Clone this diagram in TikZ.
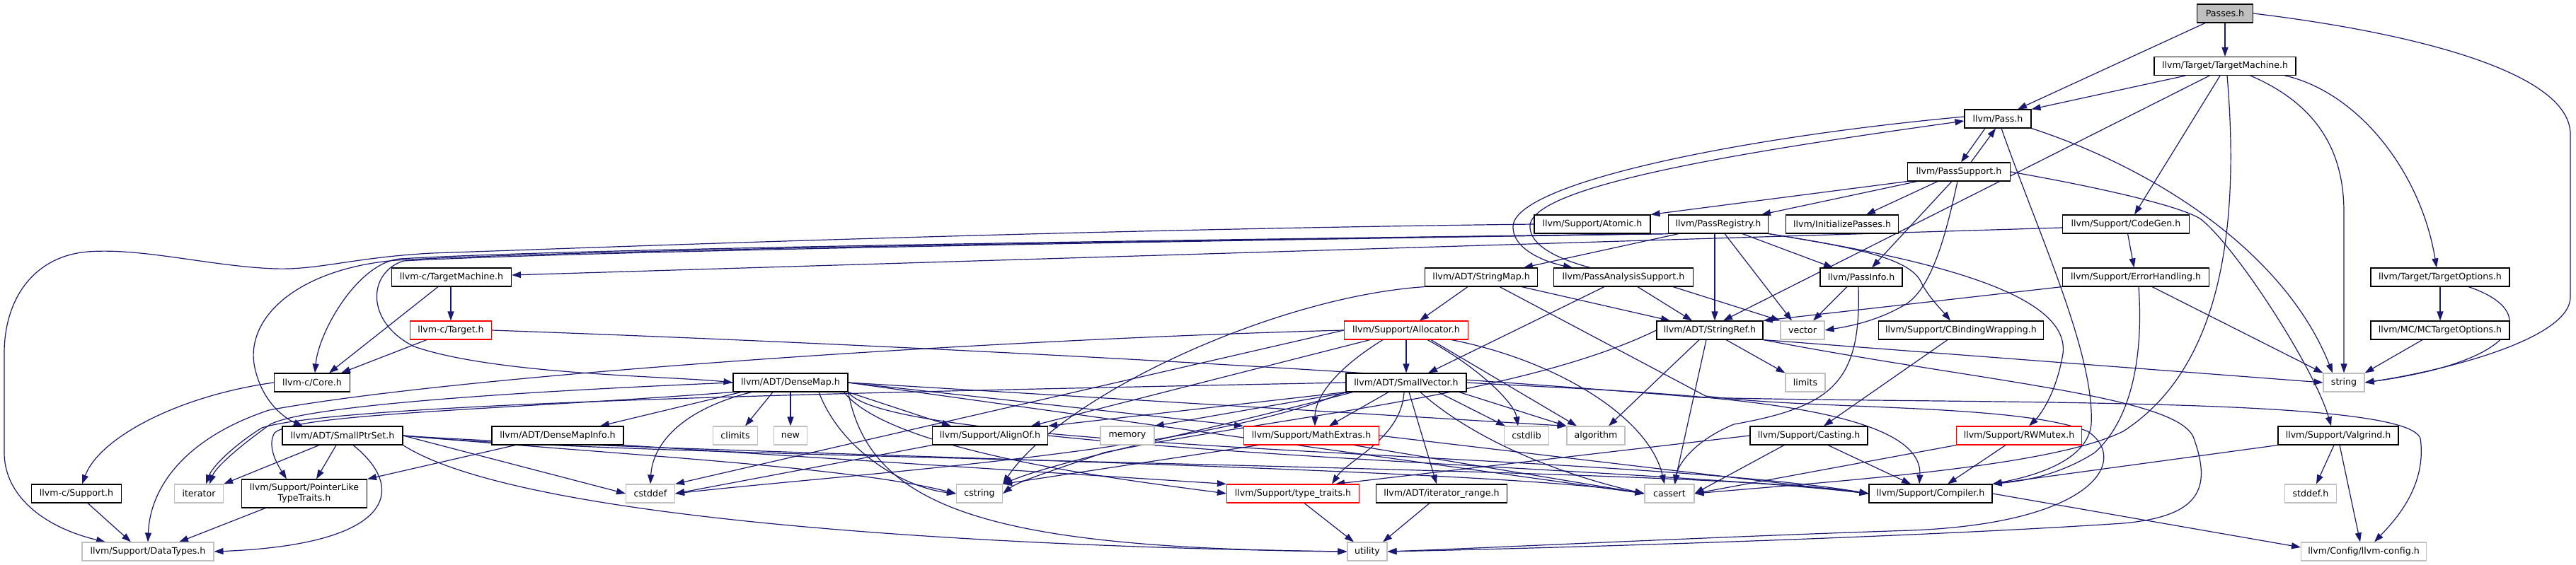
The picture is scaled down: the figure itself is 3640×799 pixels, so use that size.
\documentclass[tikz,border=0pt]{standalone}
\usepackage{fontspec}
\setmainfont{DejaVu Sans}
\usetikzlibrary{arrows.meta,backgrounds}
\definecolor{depblue}{RGB}{25,25,112}
\definecolor{boxgrey}{RGB}{191,191,191}
\definecolor{boxred}{RGB}{255,0,0}
\tikzset{
  hdr/.style={draw=black, line width=1.1pt, fill=white, font=\fontsize{12.6}{15}\selectfont, minimum height=26pt, inner sep=0pt, align=center},
  trunc/.style={hdr, draw=boxred},
  sys/.style={hdr, draw=boxgrey},
  dep/.style={draw=depblue, line width=1.2pt, -{Triangle[length=13pt,width=9pt]}}
}
\begin{document}
\begin{tikzpicture}[x=1pt,y=-1pt]
      \useasboundingbox (0,0) rectangle (3640,799);
      \node[hdr, minimum width=79pt, fill=boxgrey] (passes) at (3144,19) {Passes.h};
      \node[hdr, minimum width=200pt] (tm) at (3144,93.5) {llvm/Target/TargetMachine.h};
      \node[hdr, minimum width=94pt] (pass) at (2823,168) {llvm/Pass.h};
      \node[hdr, minimum width=145pt] (passsup) at (2768,243) {llvm/PassSupport.h};
      \node[hdr, minimum width=164pt] (atomic) at (2250,317) {llvm/Support/Atomic.h};
      \node[hdr, minimum width=141pt] (passreg) at (2428,317) {llvm/PassRegistry.h};
      \node[hdr, minimum width=159pt] (initpasses) at (2603,317) {llvm/InitializePasses.h};
      \node[hdr, minimum width=179pt] (codegen) at (3004,317) {llvm/Support/CodeGen.h};
      \node[hdr, minimum width=169pt] (ctm) at (638,392) {llvm-c/TargetMachine.h};
      \node[hdr, minimum width=159pt] (stringmap) at (2093,392) {llvm/ADT/StringMap.h};
      \node[hdr, minimum width=197pt] (pas) at (2294,392) {llvm/PassAnalysisSupport.h};
      \node[hdr, minimum width=116pt] (passinfo) at (2630,392) {llvm/PassInfo.h};
      \node[hdr, minimum width=207pt] (errh) at (3018,392) {llvm/Support/ErrorHandling.h};
      \node[hdr, minimum width=196pt] (topt) at (3448,392) {llvm/Target/TargetOptions.h};
      \node[trunc, minimum width=115pt] (ctarget) at (637,467) {llvm-c/Target.h};
      \node[trunc, minimum width=175pt] (alloc) at (1987,467) {llvm/Support/Allocator.h};
      \node[hdr, minimum width=150pt] (sref) at (2416,467) {llvm/ADT/StringRef.h};
      \node[sys, minimum width=62pt] (vector) at (2547,467) {vector};
      \node[hdr, minimum width=233pt] (cbind) at (2771,467) {llvm/Support/CBindingWrapping.h};
      \node[hdr, minimum width=196pt] (mcopt) at (3448,467) {llvm/MC/MCTargetOptions.h};
      \node[hdr, minimum width=107pt] (core) at (441,541) {llvm-c/Core.h};
      \node[hdr, minimum width=162pt] (dmap) at (1117,541) {llvm/ADT/DenseMap.h};
      \node[hdr, minimum width=170pt] (svec) at (1987,541) {llvm/ADT/SmallVector.h};
      \node[sys, minimum width=56pt] (limits) at (2551,541) {limits};
      \node[sys, minimum width=58pt] (string) at (3312,541) {string};
      \node[hdr, minimum width=170pt] (sptr) at (484,616) {llvm/ADT/SmallPtrSet.h};
      \node[hdr, minimum width=186pt] (dminfo) at (788,616) {llvm/ADT/DenseMapInfo.h};
      \node[sys, minimum width=63pt] (climits) at (1039,616) {climits};
      \node[sys, minimum width=47pt] (cnew) at (1117,616) {new};
      \node[hdr, minimum width=163pt] (alignof) at (1399,616) {llvm/Support/AlignOf.h};
      \node[sys, minimum width=76pt] (memory) at (1593,616) {memory};
      \node[trunc, minimum width=191pt] (mathx) at (1853,616) {llvm/Support/MathExtras.h};
      \node[sys, minimum width=63pt] (cstdlib) at (2157,616) {cstdlib};
      \node[sys, minimum width=82pt] (algorithm) at (2255,616) {algorithm};
      \node[hdr, minimum width=166pt] (casting) at (2556,616) {llvm/Support/Casting.h};
      \node[trunc, minimum width=177pt] (rwmutex) at (2853,616) {llvm/Support/RWMutex.h};
      \node[hdr, minimum width=170pt] (valgrind) at (3304,616) {llvm/Support/Valgrind.h};
      \node[hdr, minimum width=127pt] (csupport) at (108,698) {llvm-c/Support.h};
      \node[sys, minimum width=69pt] (iterator) at (281,698) {iterator};
      \node[hdr, minimum width=177pt, minimum height=40pt] (plt) at (430,698) {llvm/Support/PointerLike\\TypeTraits.h};
      \node[sys, minimum width=69pt] (cstddef) at (919,698) {cstddef};
      \node[sys, minimum width=65pt] (cstring) at (1384,698) {cstring};
      \node[trunc, minimum width=187pt] (ttraits) at (1827,698) {llvm/Support/type\_traits.h};
      \node[hdr, minimum width=185pt] (irange) at (2037,698) {llvm/ADT/iterator\_range.h};
      \node[sys, minimum width=70pt] (cassert) at (2359,698) {cassert};
      \node[hdr, minimum width=174pt] (compiler) at (2728,698) {llvm/Support/Compiler.h};
      \node[sys, minimum width=73pt] (stddef) at (3265,698) {stddef.h};
      \node[sys, minimum width=186pt] (datatypes) at (209,780) {llvm/Support/DataTypes.h};
      \node[sys, minimum width=56pt] (utility) at (1932,780) {utility};
      \node[sys, minimum width=177pt] (config) at (3340,780) {llvm/Config/llvm-config.h};
      \begin{scope}[on background layer]
      \draw[dep] ([xshift=-28pt]passes.south) -- ([xshift=28pt]pass.north);
      \draw[dep] (passes) -- (tm);
      \draw[dep] (passes.east) .. controls (3400,45) and (3632,100) .. (3632,190) -- (3632,420) .. controls (3632,480) and (3450,525) .. (string.east);
      \draw[dep] ([xshift=-56pt]tm.south) -- (pass.north east);
      \draw[dep] ([xshift=-22pt]tm.south) -- ([xshift=19pt]sref.north);
      \draw[dep] ([xshift=-7pt]tm.south) -- ([xshift=12pt]codegen.north);
      \draw[dep] ([xshift=3pt]tm.south) .. controls (3165,320) and (3140,520) .. (3000,610) .. controls (2900,660) and (2600,680) .. (cassert.east);
      \draw[dep] ([xshift=36pt]tm.south) .. controls (3280,150) and (3312,220) .. (3312,300) -- (string.north);
      \draw[dep] ([xshift=85pt]tm.south) .. controls (3330,130) and (3420,240) .. ([xshift=-5pt]topt.north);
      \draw[dep] ([xshift=-18pt]pass.south) -- ([xshift=3pt]passsup.north);
      \draw[dep] ([xshift=17pt]passsup.north) -- ([xshift=-3pt]pass.south);
      \draw[dep] ([yshift=3pt]pass.west) .. controls (2450,195) and (2140,260) .. (2138,320) .. controls (2137,355) and (2190,372) .. ([xshift=-72pt]pas.north);
      \draw[dep] ([xshift=-47pt]pas.north) .. controls (2185,362) and (2160,340) .. (2162,318) .. controls (2170,262) and (2460,215) .. ([yshift=-3pt]pass.west);
      \draw[dep] ([xshift=5pt]pass.south) .. controls (2880,330) and (2960,500) .. (2955,600) .. controls (2950,650) and (2880,672) .. (compiler.north east);
      \draw[dep] (pass.south east) .. controls (3050,240) and (3230,360) .. ([xshift=-16pt]string.north);
      \draw[dep] (passsup.south west) -- (atomic.north east);
      \draw[dep] ([xshift=-59pt]passsup.south) -- ([xshift=61pt]passreg.north);
      \draw[dep] ([xshift=-30pt]passsup.south) -- ([xshift=34pt]initpasses.north);
      \draw[dep] ([xshift=-10pt]passsup.south) -- ([xshift=15pt]passinfo.north);
      \draw[dep] ([xshift=-2pt]passsup.south) .. controls (2750,330) and (2730,410) .. (2690,432) .. controls (2650,455) and (2610,462) .. (vector.east);
      \draw[dep] (passsup.east) .. controls (2950,262) and (3080,290) .. (3110,310) .. controls (3160,350) and (3270,520) .. ([xshift=-10pt]valgrind.north);
      \draw[dep] (atomic.west) .. controls (1500,325) and (900,348) .. (610,358) .. controls (500,364) and (450,382) .. (389,380) .. controls (300,377) and (200,350) .. (124,356) .. controls (50,362) and (6,420) .. (6,500) -- (6,640) .. controls (6,700) and (60,745) .. ([xshift=-60pt]datatypes.north);
      \draw[dep] (passreg.south west) .. controls (1600,340) and (800,352) .. (565,366) .. controls (505,372) and (450,470) .. ([xshift=4pt]core.north);
      \draw[dep] (passreg.south west) .. controls (1600,341) and (800,354) .. (560,368) .. controls (420,380) and (345,450) .. (360,520) .. controls (372,575) and (410,595) .. ([xshift=-56pt]sptr.north);
      \draw[dep] (passreg.south west) .. controls (1600,342) and (800,356) .. (570,369) .. controls (520,385) and (515,455) .. (585,490) .. controls (700,530) and (950,532) .. (dmap.west);
      \draw[dep] ([xshift=-56pt]passreg.south) -- ([xshift=60pt]stringmap.north);
      \draw[dep] ([xshift=-5pt]passreg.south) -- ([xshift=7pt]sref.north);
      \draw[dep] ([xshift=9pt]passreg.south) -- ([xshift=-15pt]vector.north);
      \draw[dep] ([xshift=34pt]passreg.south) -- ([xshift=-40pt]passinfo.north);
      \draw[dep] (passreg.south east) .. controls (2620,350) and (2700,365) .. (2715,400) .. controls (2725,420) and (2745,440) .. ([xshift=-15pt]cbind.north);
      \draw[dep] (passreg.south east) .. controls (2750,370) and (2925,420) .. (2915,500) .. controls (2905,560) and (2880,590) .. ([xshift=14pt]rwmutex.north);
      \draw[dep] ([yshift=-5pt]codegen.west) -- ([yshift=3pt]ctm.east);
      \draw[dep] (codegen) -- (errh);
      \draw[dep] ([xshift=-19pt]ctm.south) -- ([xshift=24pt]core.north);
      \draw[dep] ([xshift=-1pt]ctm.south) -- (ctarget.north);
      \draw[dep] ([xshift=-34pt]ctarget.south) -- ([xshift=41pt]core.north);
      \draw[dep] (ctarget.east) .. controls (1200,485) and (1900,520) .. (2400,562) .. controls (2800,572) and (3400,560) .. (3420,620) .. controls (3430,690) and (3380,740) .. ([xshift=15pt]config.north);
      \draw[dep] (core.west) .. controls (250,560) and (140,620) .. ([xshift=8pt]csupport.north);
      \draw[dep] ([xshift=16pt]csupport.south) -- ([xshift=-24pt]datatypes.north);
      \draw[dep] ([xshift=-19pt]stringmap.south) -- ([xshift=19pt]alloc.north);
      \draw[dep] ([xshift=57pt]stringmap.south) -- ([xshift=-56pt]sref.north);
      \draw[dep] (stringmap.south west) .. controls (1800,420) and (1500,560) .. (cstring.north east);
      \draw[dep] ([xshift=26pt]stringmap.south) -- (2410,560) .. controls (2560,580) and (2850,570) .. (2950,610) .. controls (3010,650) and (2960,740) .. (2700,750) .. controls (2400,760) and (2100,775) .. (utility.east);
      \draw[dep] ([xshift=-27pt]pas.south) -- ([xshift=31pt]svec.north);
      \draw[dep] ([xshift=20pt]pas.south) -- ([xshift=-25pt]sref.north);
      \draw[dep] ([xshift=70pt]pas.south) -- (vector.north west);
      \draw[dep] ([xshift=-20pt]passinfo.south) -- ([xshift=15pt]vector.north);
      \draw[dep] ([xshift=-4pt]passinfo.south) .. controls (2630,540) and (2590,575) .. (2450,600) .. controls (2390,625) and (2370,660) .. ([xshift=8pt]cassert.north);
      \draw[dep] (errh.south west) -- (sref.north east);
      \draw[dep] ([xshift=23pt]errh.south) -- (string.north west);
      \draw[dep] ([xshift=4pt]errh.south) .. controls (3030,520) and (3005,600) .. (2960,640) .. controls (2910,672) and (2860,680) .. (compiler.north east);
      \draw[dep] (topt) -- (mcopt);
      \draw[dep] ([xshift=40pt]topt.south) .. controls (3590,440) and (3565,510) .. (string.east);
      \draw[dep] ([xshift=-25pt]mcopt.south) -- (string.north east);
      \draw[dep] ([xshift=23pt]sref.south) -- (limits.north west);
      \draw[dep] (sref.south east) -- (string.west);
      \draw[dep] ([xshift=-15pt]sref.south) -- ([xshift=18pt]algorithm.north);
      \draw[dep] ([xshift=-5pt]sref.south) -- ([xshift=7pt]cassert.north);
      \draw[dep] (sref.west) .. controls (2150,560) and (1800,590) .. (1560,640) .. controls (1490,665) and (1440,680) .. (cstring.east);
      \draw[dep] (sref.south east) .. controls (2800,540) and (3080,560) .. (3100,620) .. controls (3125,690) and (3110,730) .. (3000,740) .. controls (2700,760) and (2200,775) .. (utility.east);
      \draw[dep] (alloc) -- (svec);
      \draw[dep] ([xshift=-33pt]alloc.south) .. controls (1890,520) and (1858,560) .. ([xshift=5pt]mathx.north);
      \draw[dep] ([xshift=30pt]alloc.south) .. controls (2090,520) and (2140,570) .. ([xshift=-12pt]cstdlib.north);
      \draw[dep] ([xshift=35pt]alloc.south) -- ([xshift=-27pt]algorithm.north);
      \draw[dep] ([xshift=64pt]alloc.south) .. controls (2200,510) and (2330,590) .. ([xshift=-7pt]cassert.north);
      \draw[dep] ([xshift=-51pt]alloc.south) -- ([xshift=58pt]alignof.north);
      \draw[dep] (alloc.west) .. controls (1400,480) and (650,530) .. (380,580) .. controls (260,620) and (212,690) .. (datatypes.north);
      \draw[dep] (alloc.west) -- (cstddef.north east);
      \draw[dep] ([xshift=-19pt]cbind.south) -- ([xshift=21pt]casting.north);
      \draw[dep] ([xshift=-25pt]svec.south) -- ([xshift=25pt]mathx.north);
      \draw[dep] ([xshift=-3pt]svec.south) .. controls (1980,620) and (1905,650) .. ([xshift=55pt]ttraits.north);
      \draw[dep] ([xshift=4pt]svec.south) -- ([xshift=-7pt]irange.north);
      \draw[dep] ([xshift=45pt]svec.south) -- ([xshift=-30pt]cstdlib.north);
      \draw[dep] ([xshift=75pt]svec.south) -- (algorithm.north west);
      \draw[dep] ([xshift=20pt]svec.south) .. controls (2080,620) and (2200,670) .. (cassert.west);
      \draw[dep] (svec.east) .. controls (2300,555) and (2720,560) .. ([xshift=-16pt]compiler.north);
      \draw[dep] (svec.south west) -- (alignof.north east);
      \draw[dep] ([xshift=5pt]svec.south west) -- (memory.north east);
      \draw[dep] ([xshift=10pt]svec.south west) .. controls (1700,610) and (1500,650) .. (cstring.north east);
      \draw[dep] ([xshift=-2pt]svec.south west) .. controls (1700,640) and (1200,670) .. (cstddef.east);
      \draw[dep] (svec.west) .. controls (1200,555) and (480,570) .. (370,605) .. controls (330,630) and (300,660) .. ([xshift=10pt]iterator.north);
      \draw[dep] ([xshift=-70pt]dmap.south) -- ([xshift=60pt]dminfo.north);
      \draw[dep] ([xshift=-25pt]dmap.south) -- ([xshift=14pt]climits.north);
      \draw[dep] (dmap) -- (cnew);
      \draw[dep] ([xshift=-55pt]dmap.south) .. controls (960,580) and (922,630) .. (cstddef.north);
      \draw[dep] (dmap.south east) -- ([xshift=-55pt]alignof.north);
      \draw[dep] (dmap.south east) .. controls (1260,640) and (2300,640) .. (compiler.west);
      \draw[dep] (dmap.east) -- (mathx.north west);
      \draw[dep] ([xshift=-6pt]dmap.south east) .. controls (1260,640) and (1600,680) .. (ttraits.west);
      \draw[dep] (dmap.east) -- (algorithm.north west);
      \draw[dep] (dmap.east) -- (cassert.west);
      \draw[dep] ([xshift=40pt]dmap.south) .. controls (1190,640) and (1280,690) .. (cstring.west);
      \draw[dep] (dmap.west) .. controls (700,555) and (430,575) .. (382,600) .. controls (340,630) and (305,660) .. ([xshift=15pt]iterator.north);
      \draw[dep] (dmap.south west) .. controls (700,580) and (420,585) .. (388,612) .. controls (376,632) and (394,660) .. ([xshift=-25pt]plt.north);
      \draw[dep] (dmap.south east) .. controls (1230,720) and (1400,775) .. (utility.west);
      \draw[dep] ([xshift=-60pt]dminfo.south) -- (plt.north east);
      \draw[dep] (dminfo.south east) -- (ttraits.north west);
      \draw[dep] ([xshift=-33pt]sptr.south) -- (iterator.north east);
      \draw[dep] ([xshift=-9pt]sptr.south) -- ([xshift=17pt]plt.north);
      \draw[dep] ([xshift=15pt]sptr.south) .. controls (575,690) and (560,770) .. (datatypes.east);
      \draw[dep] (sptr.east) -- (cstddef.west);
      \draw[dep] (sptr.east) .. controls (900,645) and (1200,660) .. (cstring.west);
      \draw[dep] (sptr.east) .. controls (900,640) and (2100,660) .. (cassert.west);
      \draw[dep] (sptr.east) .. controls (900,650) and (2400,660) .. (compiler.west);
      \draw[dep] (sptr.south east) .. controls (750,745) and (1500,775) .. (utility.west);
      \draw[dep] ([xshift=-75pt]mathx.south) -- (cstring.north east);
      \draw[dep] ([xshift=60pt]mathx.south) -- (cassert.west);
      \draw[dep] (mathx.east) -- (compiler.west);
      \draw[dep] (alignof.south west) -- (cstddef.east);
      \draw[dep] (alignof.east) .. controls (1800,650) and (2400,670) .. (compiler.west);
      \draw[dep] (casting.west) -- ([xshift=60pt]ttraits.north);
      \draw[dep] ([xshift=-35pt]casting.south) -- (cassert.east);
      \draw[dep] ([xshift=27pt]casting.south) -- ([xshift=-28pt]compiler.north);
      \draw[dep] (rwmutex.south west) -- (cassert.east);
      \draw[dep] ([xshift=-19pt]rwmutex.south) -- ([xshift=24pt]compiler.north);
      \draw[dep] ([xshift=-6pt]valgrind.south) -- ([xshift=8pt]stddef.north);
      \draw[dep] ([xshift=2pt]valgrind.south) -- ([xshift=-5pt]config.north);
      \draw[dep] (valgrind.south west) -- (compiler.north east);
      \draw[dep] (compiler.east) -- ([yshift=6pt]config.west);
      \draw[dep] ([xshift=16pt]ttraits.south) -- ([xshift=-19pt]utility.north);
      \draw[dep] ([xshift=-17pt]irange.south) -- ([xshift=22pt]utility.north);
      \draw[dep] ([xshift=-55pt]plt.south) -- ([xshift=44pt]datatypes.north);
      \end{scope}
\end{tikzpicture}
\end{document}
